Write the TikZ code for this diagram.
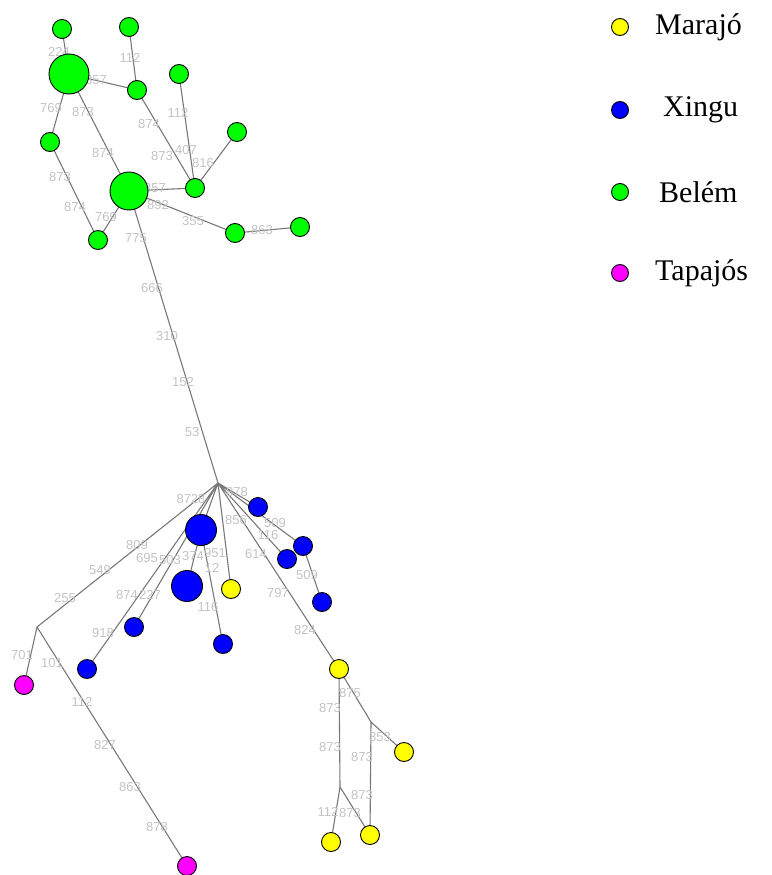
\documentclass[tikz,border=0pt]{standalone}
\usepackage{fontspec}
\setmainfont{Liberation Serif}
\newfontfamily\labfont{Liberation Sans}
\definecolor{edgegray}{RGB}{120,120,120}
\definecolor{labgray}{RGB}{195,195,195}
\definecolor{cgreen}{RGB}{0,255,0}
\definecolor{cblue}{RGB}{0,0,255}
\definecolor{cyellow}{RGB}{255,255,0}
\definecolor{cpink}{RGB}{255,0,255}
\tikzset{
  hap/.style={circle,draw=black,line width=0.9pt,inner sep=0pt,minimum size=19pt},
  bigg/.style={hap,minimum size=40pt},
  bigb/.style={hap,minimum size=31pt},
  gn/.style={hap,fill=cgreen},
  bn/.style={hap,fill=cblue},
  yn/.style={hap,fill=cyellow},
  pn/.style={hap,fill=cpink},
  edge/.style={draw=edgegray,line width=1.1pt},
  lab/.style={text=labgray,font=\labfont\fontsize{13}{13}\selectfont,inner sep=0pt},
  legdot/.style={hap,minimum size=17pt},
  legtext/.style={font=\fontsize{30}{30}\selectfont,anchor=west,inner sep=0pt}
}
\begin{document}
\begin{tikzpicture}[x=1pt,y=-1pt]
\useasboundingbox (0,0) rectangle (771,875);
% coordinates
\coordinate (g1) at (62,29);
\coordinate (g2) at (129,27);
\coordinate (gb1) at (69,74);
\coordinate (g3) at (137,90);
\coordinate (g4) at (179,74);
\coordinate (g5) at (237,132);
\coordinate (g6) at (195,188);
\coordinate (gb2) at (129,191);
\coordinate (g7) at (50,142);
\coordinate (g8) at (98,240);
\coordinate (g9) at (235,233);
\coordinate (g10) at (300,227);
\coordinate (H) at (218,483);
\coordinate (J1) at (37,627);
\coordinate (J2) at (340,787);
\coordinate (J3) at (371,722);
\coordinate (bb1) at (201,530);
\coordinate (bb2) at (187,586);
\coordinate (b3) at (258,507);
\coordinate (b4) at (303,546);
\coordinate (b5) at (287,559);
\coordinate (b6) at (322,602);
\coordinate (b7) at (223,644);
\coordinate (b8) at (134,627);
\coordinate (b9) at (87,669);
\coordinate (y1) at (231,589);
\coordinate (y2) at (339,669);
\coordinate (y3) at (404,752);
\coordinate (y4) at (331,842);
\coordinate (y5) at (370,835);
\coordinate (p1) at (24,685);
\coordinate (p2) at (187,866);
% edges
\draw[edge] (g1)--(gb1) (g2)--(g3) (gb1)--(g3) (gb1)--(g7) (gb1)--(gb2)
  (g3)--(g6) (g4)--(g6) (g5)--(g6) (gb2)--(g6) (gb2)--(g9) (g9)--(g10)
  (g7)--(g8) (g8)--(gb2) (gb2)--(H);
\draw[edge] (H)--(b3) (H)--(b4) (H)--(b5) (H)--(y2) (b4)--(b6) (H)--(y1)
  (H)--(bb1) (bb1)--(bb2) (H)--(b8) (H)--(b9) (H)--(J1) (J1)--(p1) (J1)--(p2)
  (bb1)--(b7);
\draw[edge] (y2)--(J3) (J3)--(y3) (J3)--(y5) (y2)--(J2) (J2)--(y4) (J2)--(y5);
% labels
\foreach \t/\x/\y in {224/59/52,112/130/58,357/96/80,769/51/108,873/83/112,
  874/149/124,874/103/153,112/178/113,873/162/156,407/186/150,816/203/163,
  357/155/188,892/158/205,355/193/221,863/262/230,873/60/177,874/75/207,
  769/106/217,775/136/238,666/152/288,310/167/336,152/183/382,53/192/432}
  \node[lab] at (\x,\y) {\t};
\foreach \t/\x/\y in {8728/191/499,878/237/492,856/236/520,509/275/523,116/268/535,
  614/256/554,797/278/593,824/305/630,509/307/575,951/215/553,12/212/568,
  116/208/607,809/137/545,549/100/570,255/65/598,695/147/558,503/170/560,
  374/193/556,874/127/595,227/150/595,918/103/633,701/22/655,101/52/663,
  112/82/702,827/105/745,863/130/787,878/157/827,
  875/350/693,873/330/708,873/330/747,353/380/737,873/362/757,873/362/795,
  112/328/812,873/350/813}
  \node[lab] at (\x,\y) {\t};
% nodes
\node[gn] (n1) at (g1) {};
\node[gn] (n2) at (g2) {};
\node[gn,bigg] (n3) at (gb1) {};
\node[gn] (n4) at (g3) {};
\node[gn] (n5) at (g4) {};
\node[gn] (n6) at (g5) {};
\node[gn] (n7) at (g6) {};
\node[gn,minimum size=38pt] (n8) at (gb2) {};
\node[gn] (n9) at (g7) {};
\node[gn] (n10) at (g8) {};
\node[gn] (n11) at (g9) {};
\node[gn] (n12) at (g10) {};
\node[bn,bigb] (n13) at (bb1) {};
\node[bn,bigb] (n14) at (bb2) {};
\node[bn] (n15) at (b3) {};
\node[bn] (n16) at (b4) {};
\node[bn] (n17) at (b5) {};
\node[bn] (n18) at (b6) {};
\node[bn] (n19) at (b7) {};
\node[bn] (n20) at (b8) {};
\node[bn] (n21) at (b9) {};
\node[yn] (n22) at (y1) {};
\node[yn] (n23) at (y2) {};
\node[yn] (n24) at (y3) {};
\node[yn] (n25) at (y4) {};
\node[yn] (n26) at (y5) {};
\node[pn] (n27) at (p1) {};
\node[pn] (n28) at (p2) {};
% legend
\node[legdot,fill=cyellow] (l1) at (620,27) {};
\node[legtext] (t1) at (655,27) {Marajó};
\node[legdot,fill=cblue] (l2) at (620,110) {};
\node[legtext] (t2) at (663,110) {Xingu};
\node[legdot,fill=cgreen] (l3) at (620,192) {};
\node[legtext] (t3) at (659,192) {Belém};
\node[legdot,fill=cpink] (l4) at (620,273) {};
\node[legtext] (t4) at (655,273) {Tapajós};
\end{tikzpicture}
\end{document}
